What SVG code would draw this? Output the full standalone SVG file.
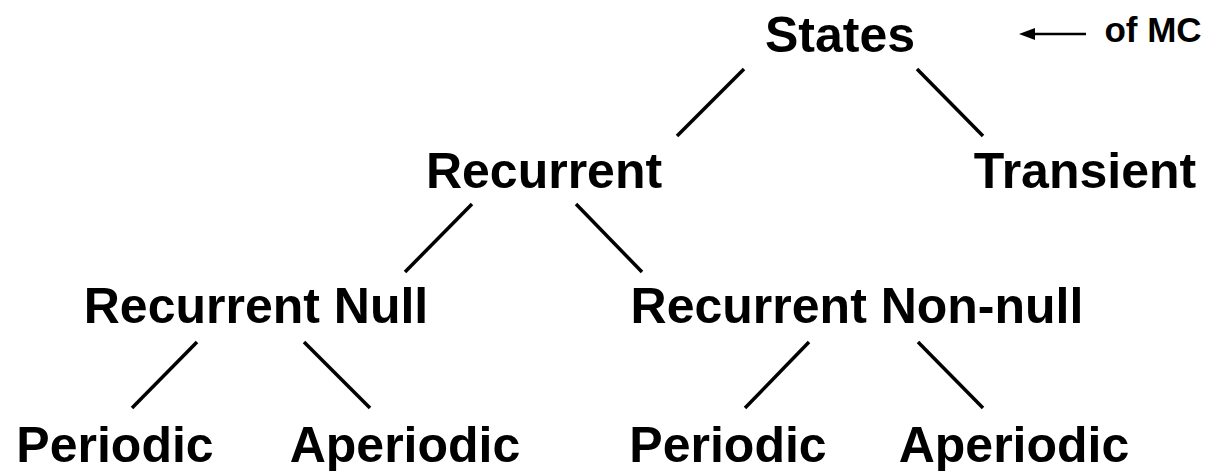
<svg xmlns="http://www.w3.org/2000/svg" width="1213" height="471" viewBox="0 0 1213 471">
<style>
text{font-family:"Liberation Sans",Arial,sans-serif;font-weight:bold;fill:#000;text-anchor:middle}
.n{font-size:50px}
.s{font-size:35px}
line{stroke:#000;stroke-width:3.5;fill:none}
</style>
<defs>
<marker id="ah" viewBox="0 0 16 12" refX="1" refY="6" markerWidth="16" markerHeight="12" orient="auto" markerUnits="userSpaceOnUse">
<path d="M0,6 L16,0 L16,12 z" fill="#000"/>
</marker>
</defs>
<g id="connectors">
<line x1="744" y1="69" x2="677" y2="136"/>
<line x1="917" y1="69" x2="983" y2="136"/>
<line x1="472" y1="204" x2="405" y2="272"/>
<line x1="576" y1="204" x2="642" y2="272"/>
<line x1="197" y1="342" x2="132" y2="408"/>
<line x1="304" y1="342" x2="370" y2="408"/>
<line x1="809" y1="342" x2="745" y2="408"/>
<line x1="918" y1="342" x2="983" y2="408"/>
<line x1="1086" y1="34" x2="1032" y2="34" style="stroke-width:2.5"/>
<path d="M1019,34 L1035,28 L1035,40 z" fill="#000"/>
</g>
<g id="states"><text class="n" x="840" y="52">States</text></g>
<g id="ofmc"><text class="s" x="1153" y="42">of MC</text></g>
<g id="recurrent"><text class="n" x="544" y="188">Recurrent</text></g>
<g id="transient"><text class="n" x="1085" y="188">Transient</text></g>
<g id="rnull"><text class="n" x="256" y="323">Recurrent Null</text></g>
<g id="rnonnull"><text class="n" x="857" y="323">Recurrent Non-null</text></g>
<g id="periodic1"><text class="n" x="115" y="462">Periodic</text></g>
<g id="aperiodic1"><text class="n" x="405" y="462">Aperiodic</text></g>
<g id="periodic2"><text class="n" x="728" y="462">Periodic</text></g>
<g id="aperiodic2"><text class="n" x="1014" y="462">Aperiodic</text></g>
</svg>
